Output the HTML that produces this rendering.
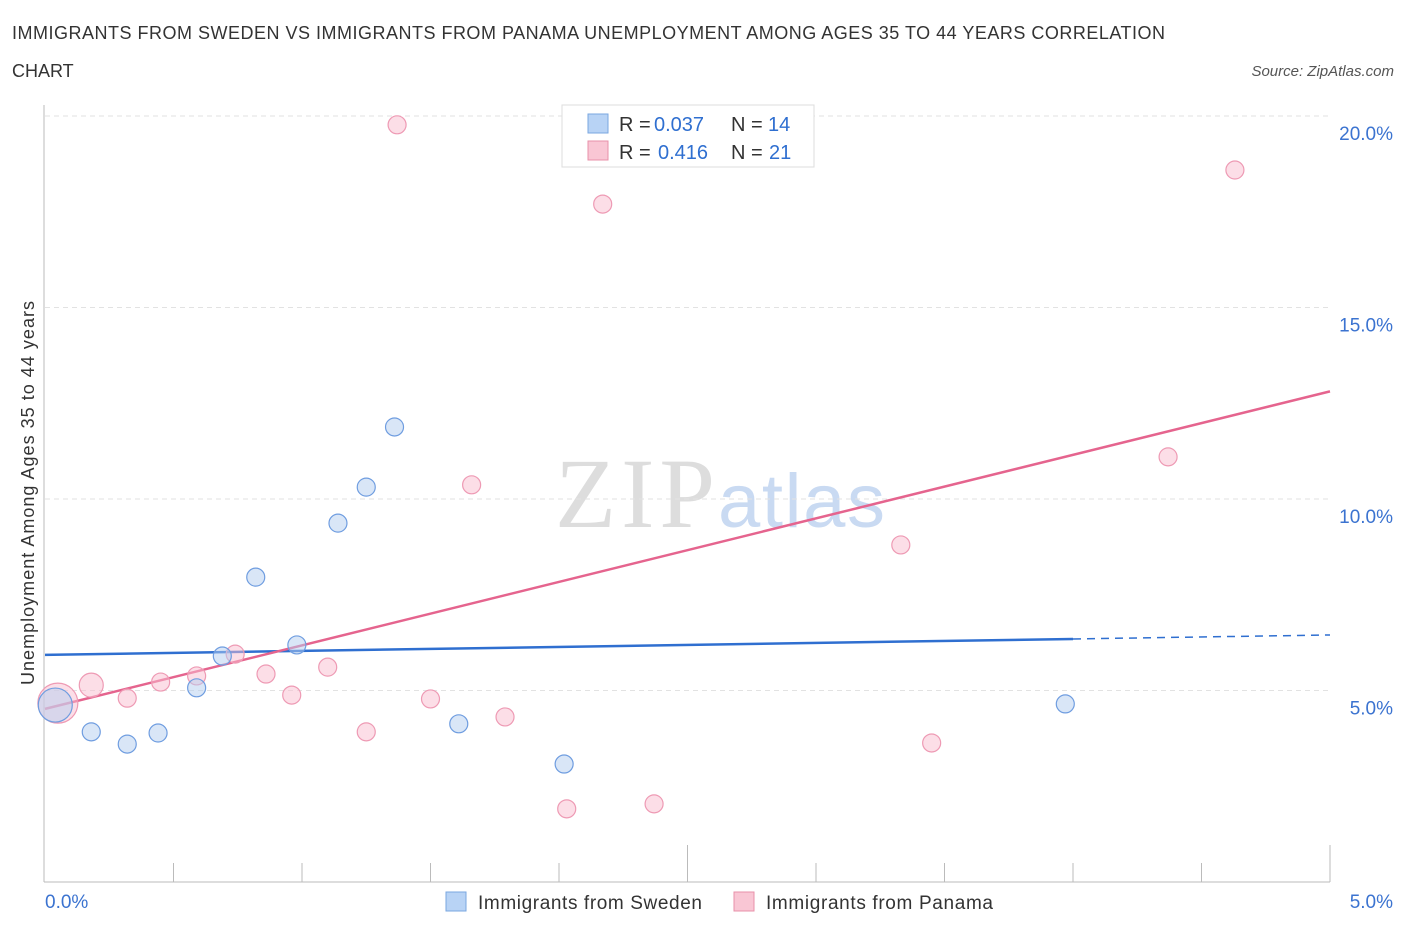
<!DOCTYPE html>
<html><head><meta charset="utf-8"><style>
body{margin:0;background:#fff;font-family:"Liberation Sans",sans-serif}
</style></head><body>
<svg id="c" width="1406" height="930" xmlns="http://www.w3.org/2000/svg">
<text x="12" y="39" font-size="18" fill="#333" textLength="1153">IMMIGRANTS FROM SWEDEN VS IMMIGRANTS FROM PANAMA UNEMPLOYMENT AMONG AGES 35 TO 44 YEARS CORRELATION</text>
<text x="12" y="77" font-size="18" fill="#333">CHART</text>
<text x="1394" y="76" font-size="15" fill="#555" font-style="italic" text-anchor="end">Source: ZipAtlas.com</text>
<text x="555" y="527" font-size="100" fill="#ddd" font-family="Liberation Serif,serif" textLength="160">ZIP</text>
<text x="718" y="527" font-size="76" fill="#c9daf2" textLength="167">atlas</text>
<g id="grid"></g><g id="axes"></g><g id="lines"></g><g id="pts"></g>
<g>
<rect x="562" y="105" width="252" height="62" fill="#fff" stroke="#ddd"/>
<rect x="588" y="114" width="20" height="19" fill="#b8d3f5" stroke="#7aa7e0"/>
<text x="619" y="131" font-size="20" fill="#333">R =</text>
<text x="654" y="131" font-size="20" fill="#2f6fd0">0.037</text>
<text x="731" y="131" font-size="20" fill="#333">N =</text>
<text x="768" y="131" font-size="20" fill="#2f6fd0">14</text>
<rect x="588" y="141" width="20" height="19" fill="#f9c6d4" stroke="#e890aa"/>
<text x="619" y="159" font-size="20" fill="#333">R =</text>
<text x="658" y="159" font-size="20" fill="#2f6fd0">0.416</text>
<text x="731" y="159" font-size="20" fill="#333">N =</text>
<text x="769" y="159" font-size="20" fill="#2f6fd0">21</text>
</g>
<g>
<rect x="446" y="892" width="20" height="19" fill="#b8d3f5" stroke="#7aa7e0"/>
<text x="478" y="909" font-size="19" fill="#333" textLength="224">Immigrants from Sweden</text>
<rect x="734" y="892" width="20" height="19" fill="#f9c6d4" stroke="#e890aa"/>
<text x="766" y="909" font-size="19" fill="#333" textLength="227">Immigrants from Panama</text>
</g>
<text transform="translate(34,493) rotate(-90)" font-size="18" fill="#333" text-anchor="middle" textLength="384">Unemployment Among Ages 35 to 44 years</text>
</svg>
<script>
const yTicks=[5,10,15,20];
const yTickLabels=["5.0%","10.0%","15.0%","20.0%"];
const xTickLabels=["0.0%","5.0%"];
const swedenX=[0.04,0.18,0.32,0.44,0.59,0.69,0.82,0.98,1.14,1.25,1.36,1.61,2.02,3.97];
const swedenY=[4.62,3.92,3.60,3.89,5.07,5.90,7.96,6.19,9.37,10.31,11.88,4.13,3.08,4.65];
const swedenR=[17,9,9,9,9,9,9,9,9,9,9,9,9,9];
const panamaX=[0.05,0.18,0.32,0.45,0.59,0.74,0.86,0.96,1.10,1.25,1.37,1.50,1.66,1.79,2.03,2.17,2.37,3.33,3.45,4.37,4.63];
const panamaY=[4.67,5.14,4.80,5.22,5.38,5.95,5.43,4.88,5.61,3.92,19.77,4.78,10.37,4.31,1.91,17.70,2.04,8.80,3.63,11.10,18.59];
const panamaR=[20,12,9,9,9,9,9,9,9,9,9,9,9,9,9,9,9,9,9,9,9];
const swedenTrend=[5.93,6.45];
const panamaTrend=[4.52,12.81];
const NS="http://www.w3.org/2000/svg";
const X=v=>45+v*257, Y=v=>882-v*38.3;
function mk(t,a,p){const e=document.createElementNS(NS,t);for(const k in a)e.setAttribute(k,a[k]);document.getElementById(p).appendChild(e);return e;}
yTicks.forEach((t,i)=>{
 const g=mk('line',{x1:45,x2:1330,y1:Y(t),y2:Y(t),stroke:'#e2e2e2','stroke-dasharray':'5,4'},'grid');
 
 
 const l=mk('text',{x:1393,y:Y(t)+24,'font-size':19,fill:'#3b73d0','text-anchor':'end'},'axes');l.textContent=yTickLabels[i];
 
 
});
const ax=mk('line',{x1:44,x2:44,y1:105,y2:882,stroke:'#bbb'},'axes');


const bx=mk('line',{x1:44,x2:1330,y1:882,y2:882,stroke:'#bbb'},'axes');


for(let i=1;i<=10;i++){const tk=mk('line',{x1:X(i*0.5),x2:X(i*0.5),y1:(i==5||i==10)?845:863,y2:882,stroke:'#bbb'},'axes');
 
 }
[[0,'start',45],[5,'end',1393]].forEach((a,i)=>{const t=mk('text',{x:a[2],y:908,'font-size':19,fill:'#3b73d0','text-anchor':a[1]},'axes');t.textContent=xTickLabels[i];
 
 });
const s1=mk('line',{x1:X(0),y1:Y(swedenTrend[0]),x2:X(4),y2:Y(swedenTrend[0]+(swedenTrend[1]-swedenTrend[0])*0.8),stroke:'#2f6fd0','stroke-width':2.5},'lines');


const s2=mk('line',{x1:X(4),y1:Y(swedenTrend[0]+(swedenTrend[1]-swedenTrend[0])*0.8),x2:X(5),y2:Y(swedenTrend[1]),stroke:'#2f6fd0','stroke-width':1.5,'stroke-dasharray':'8,6'},'lines');


const p1=mk('line',{x1:X(0),y1:Y(panamaTrend[0]),x2:X(5),y2:Y(panamaTrend[1]),stroke:'#e5648e','stroke-width':2.5},'lines');


panamaX.forEach((x,i)=>{const c=mk('circle',{cx:X(x),cy:Y(panamaY[i]),r:panamaR[i],fill:'rgba(249,190,208,0.5)',stroke:'#ee9ab4','stroke-width':1.2},'pts');
 
 });
swedenX.forEach((x,i)=>{const c=mk('circle',{cx:X(x),cy:Y(swedenY[i]),r:swedenR[i],fill:'rgba(180,205,240,0.5)',stroke:'#6f9de0','stroke-width':1.2},'pts');
 
 });
</script>
</body></html>
